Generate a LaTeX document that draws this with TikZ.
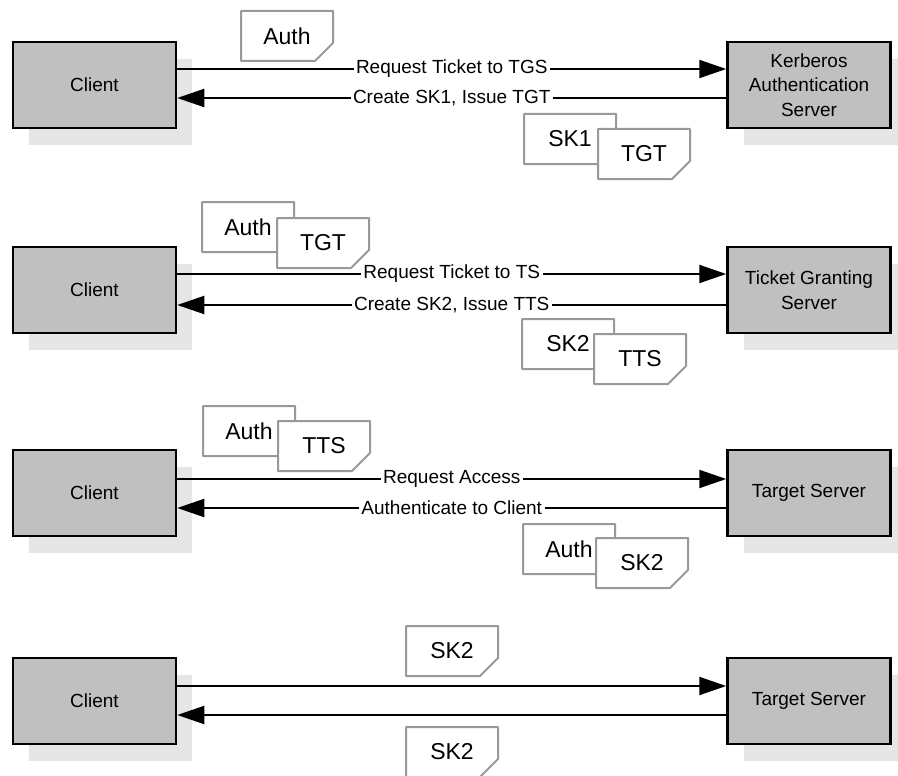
\documentclass[tikz,border=0pt]{standalone}
\usepackage{fontspec}
\setmainfont{Liberation Sans}
\usetikzlibrary{arrows.meta,shadows}
\definecolor{boxfill}{HTML}{C0C0C0}
\definecolor{shadowfill}{HTML}{E6E6E6}
\definecolor{notegray}{HTML}{999999}
\tikzset{
 party/.style={draw=black, line width=2.5pt, fill=boxfill, minimum width=163pt, minimum height=86pt, align=center, font=\fontsize{19}{24.5}\selectfont, general shadow={fill=shadowfill, draw=none, shadow xshift=16pt, shadow yshift=-17pt}},
 msg/.style={line width=2pt, -{Triangle[length=27pt,width=18pt]}},
 lbl/.style={fill=white, inner sep=2.5pt, font=\fontsize{19}{22}\selectfont},
 notesty/.style={draw=notegray, line width=2pt, fill=white, line join=round},
 notetext/.style={font=\fontsize{23}{26}\selectfont, inner sep=0pt},
}
\newcommand{\notebox}[4]{%
 \filldraw[notesty] (#2+1,#3+1) -- ++(92,0) -- ++(0,32) -- ++(-18,18) -- ++(-74,0) -- cycle;
 \node[notetext] (#1) at (#2+47,#3+26) {#4};}
\begin{document}
\begin{tikzpicture}[x=1pt,y=-1pt]
\useasboundingbox (0,0) rectangle (898,776);
% row 1
\node[party] (c1) at (94.5,85) {Client};
\node[party] (s1) at (809,85) {Kerberos\\Authentication\\Server};
\draw[msg] ([yshift=16pt]c1.east) -- node[lbl] {Request Ticket to TGS} ([yshift=16pt]s1.west);
\draw[msg] ([yshift=-13pt]s1.west) -- node[lbl] {Create SK1, Issue TGT} ([yshift=-13pt]c1.east);
\notebox{n1a}{240}{10}{Auth}
\notebox{n1b}{523}{113}{SK1}
\notebox{n1c}{597}{128}{TGT}
% row 2
\node[party] (c2) at (94.5,290) {Client};
\node[party] (s2) at (809,290) {Ticket Granting\\Server};
\draw[msg] ([yshift=16pt]c2.east) -- node[lbl] {Request Ticket to TS} ([yshift=16pt]s2.west);
\draw[msg] ([yshift=-15pt]s2.west) -- node[lbl] {Create SK2, Issue TTS} ([yshift=-15pt]c2.east);
\notebox{n2a}{201}{201}{Auth}
\notebox{n2b}{276}{217}{TGT}
\notebox{n2c}{521}{318}{SK2}
\notebox{n2d}{593}{333}{TTS}
% row 3
\node[party] (c3) at (94.5,493) {Client};
\node[party] (s3) at (809,493) {Target Server};
\draw[msg] ([yshift=14pt]c3.east) -- node[lbl] {Request Access} ([yshift=14pt]s3.west);
\draw[msg] ([yshift=-15pt]s3.west) -- node[lbl] {Authenticate to Client} ([yshift=-15pt]c3.east);
\notebox{n3a}{202}{405}{Auth}
\notebox{n3b}{277}{420}{TTS}
\notebox{n3c}{522}{523}{Auth}
\notebox{n3d}{595}{537}{SK2}
% row 4
\node[party] (c4) at (94.5,701) {Client};
\node[party] (s4) at (809,701) {Target Server};
\draw[msg] ([yshift=15pt]c4.east) -- ([yshift=15pt]s4.west);
\draw[msg] ([yshift=-14pt]s4.west) -- ([yshift=-14pt]c4.east);
\notebox{n4a}{405}{625}{SK2}
\notebox{n4b}{405}{726}{SK2}
\end{tikzpicture}
\end{document}
